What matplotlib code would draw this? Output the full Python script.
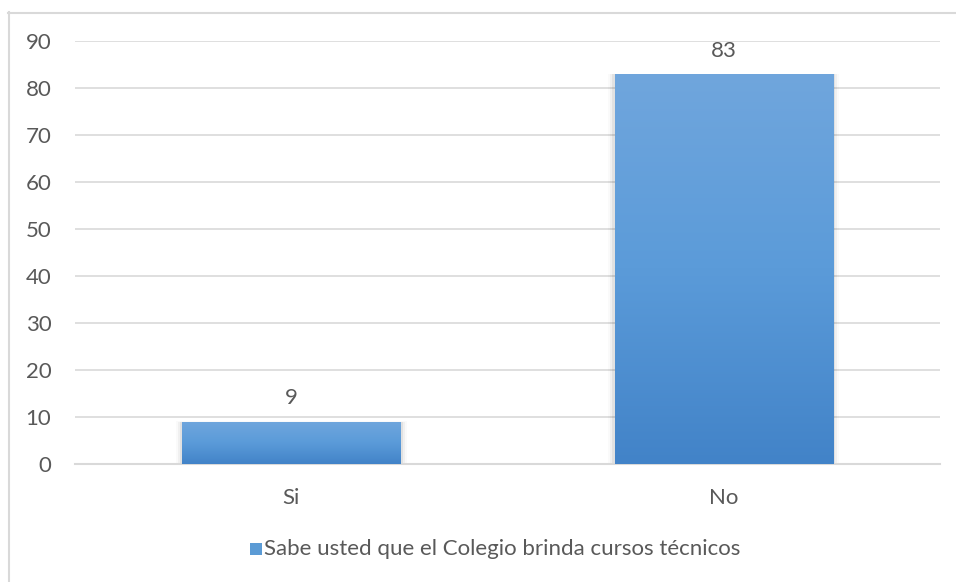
import matplotlib.pyplot as plt
import numpy as np
from matplotlib.patches import Rectangle
from matplotlib.colors import LinearSegmentedColormap
from matplotlib.lines import Line2D

categories = ["Si", "No"]
values = [9, 83]
series_name = "Sabe usted que el Colegio brinda cursos técnicos"
yticks = [0, 10, 20, 30, 40, 50, 60, 70, 80, 90]

plt.rcParams["font.family"] = ["Lato", "DejaVu Sans"]
text_color = "#595959"
grid_color = "#D9D9D9"

W, H = 956, 582
fig = plt.figure(figsize=(W / 100, H / 100), dpi=100)
ax = fig.add_axes([75 / W, 1 - 464 / H, 865 / W, 423 / H])

x = np.arange(len(categories))
bar_w = 0.505
grad = LinearSegmentedColormap.from_list("g", ["#4283C8", "#5B9BD9", "#70A6DD"])
img = np.linspace(0, 1, 256).reshape(-1, 1)

for xi, v in zip(x, values):
    # soft shadow
    for k, a in enumerate([0.06, 0.04, 0.02]):
        off = 0.005 * (k + 1)
        ax.add_patch(Rectangle((xi - bar_w / 2 - off, 0), bar_w + 2 * off, v + off * 4,
                               facecolor="black", alpha=a, edgecolor="none", zorder=2))
    rect = Rectangle((xi - bar_w / 2, 0), bar_w, v, facecolor="none", edgecolor="none", zorder=3)
    ax.add_patch(rect)
    im = ax.imshow(img, cmap=grad, origin="lower", aspect="auto",
                   extent=[xi - bar_w / 2, xi + bar_w / 2, 0, v], zorder=3)
    im.set_clip_path(rect)
    ax.text(xi, v + 3.7, str(v), ha="center", va="baseline", fontsize=16, color=text_color)

ax.set_xlim(-0.5, 1.5)
ax.set_ylim(0, 90)
ax.set_yticks(yticks)
ax.set_xticks(x)
ax.set_xticklabels(categories)
ax.tick_params(axis="both", length=0, labelsize=16, colors=text_color)
ax.tick_params(axis="y", pad=17)
ax.tick_params(axis="x", pad=17)
ax.grid(axis="y", color=grid_color, linewidth=1.2, zorder=0)
ax.set_axisbelow(True)
for s in ["top", "right", "left"]:
    ax.spines[s].set_visible(False)
ax.spines["bottom"].set_color(grid_color)
ax.spines["bottom"].set_linewidth(1.5)

# legend
lx, ly = 250 / W, 1 - 549 / H
fig.patches.append(Rectangle((lx, ly - 6 / H), 12 / W, 12 / H, transform=fig.transFigure,
                             facecolor="#5B9BD5", edgecolor="none"))
fig.text(lx + 14 / W, ly, series_name, ha="left", va="center", fontsize=16, color=text_color)

# chart area border (left and top visible)
fig.add_artist(Line2D([8.5 / W, 8.5 / W], [0, 1 - 12 / H], transform=fig.transFigure,
                      color=grid_color, linewidth=1.5))
fig.add_artist(Line2D([8 / W, 1], [1 - 12.5 / H, 1 - 12.5 / H], transform=fig.transFigure,
                      color=grid_color, linewidth=1.5))

fig.savefig("out.png", dpi=100)
